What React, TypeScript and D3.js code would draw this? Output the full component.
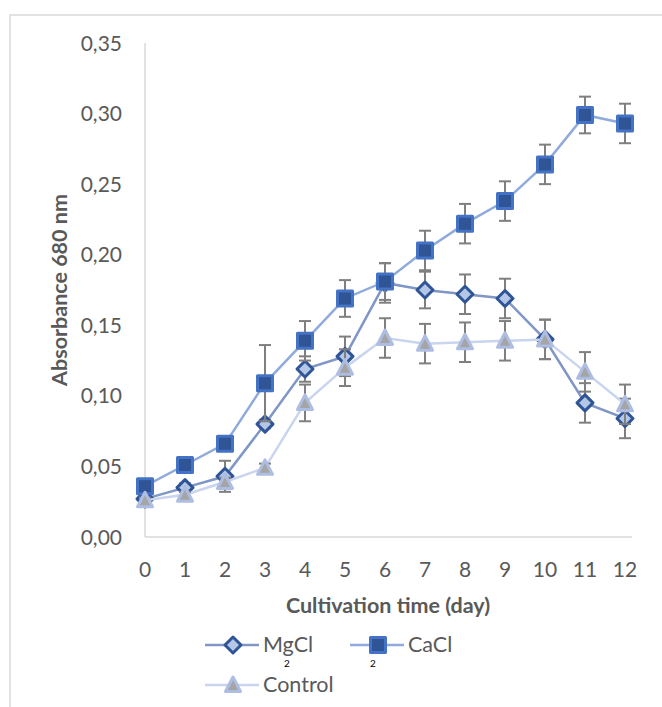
import React, { useEffect, useRef } from "react";
import * as d3 from "d3";

const days = [0, 1, 2, 3, 4, 5, 6, 7, 8, 9, 10, 11, 12];
const mgcl = [0.027, 0.035, 0.043, 0.08, 0.119, 0.128, 0.18, 0.175, 0.172, 0.169, 0.14, 0.095, 0.084];
const mgclErr = [0.002, 0.003, 0.011, 0.003, 0.009, 0.014, 0.014, 0.013, 0.014, 0.014, 0.014, 0.014, 0.014];
const cacl = [0.036, 0.051, 0.066, 0.109, 0.139, 0.169, 0.181, 0.203, 0.222, 0.238, 0.264, 0.299, 0.293];
const caclErr = [0.002, 0.003, 0.003, 0.027, 0.014, 0.013, 0.013, 0.014, 0.014, 0.014, 0.014, 0.013, 0.014];
const control = [0.026, 0.03, 0.039, 0.049, 0.095, 0.12, 0.141, 0.137, 0.138, 0.139, 0.14, 0.117, 0.094];
const controlErr = [0.002, 0.002, 0.003, 0.003, 0.013, 0.013, 0.014, 0.014, 0.014, 0.014, 0.014, 0.014, 0.014];
const yTicks = [0, 0.05, 0.1, 0.15, 0.2, 0.25, 0.3, 0.35];

const FONT = "Lato, 'Open Sans', sans-serif";
const TXT = "#595959";

function App() {
  const ref = useRef<SVGSVGElement>(null);

  useEffect(() => {
    document.body.style.margin = "0";
    drawChart();
  }, []);

  const drawChart = () => {
    const svg = d3.select(ref.current);
    svg.selectAll("*").remove();

    const left = 145,
      right = 625,
      top = 43,
      bottom = 537;

    const x = d3.scaleLinear().domain([0, 12]).range([left, right]);
    const y = d3.scaleLinear().domain([0, 0.35]).range([bottom, top]);

    // chart border
    svg
      .append("rect")
      .attr("x", 10)
      .attr("y", 15)
      .attr("width", 700)
      .attr("height", 720)
      .attr("fill", "none")
      .attr("stroke", "#d9d9d9")
      .attr("stroke-width", 1.5);

    // axes lines
    svg
      .append("line")
      .attr("x1", left)
      .attr("x2", left)
      .attr("y1", top)
      .attr("y2", bottom)
      .attr("stroke", "#d9d9d9")
      .attr("stroke-width", 1.5);
    svg
      .append("line")
      .attr("x1", left)
      .attr("x2", 632)
      .attr("y1", bottom)
      .attr("y2", bottom)
      .attr("stroke", "#d9d9d9")
      .attr("stroke-width", 1.5);

    // y tick labels
    svg
      .append("g")
      .selectAll("text")
      .data(yTicks)
      .enter()
      .append("text")
      .attr("x", 122)
      .attr("y", (d) => y(d))
      .attr("dy", "0.36em")
      .attr("text-anchor", "end")
      .attr("font-family", FONT)
      .attr("font-size", 21)
      .attr("fill", TXT)
      .text((d) => d3.format(".2f")(d).replace(".", ","));

    // x tick labels
    svg
      .append("g")
      .selectAll("text")
      .data(days)
      .enter()
      .append("text")
      .attr("x", (d) => x(d))
      .attr("y", 577)
      .attr("text-anchor", "middle")
      .attr("font-family", FONT)
      .attr("font-size", 21)
      .attr("fill", TXT)
      .text((d) => d);

    svg
      .append("text")
      .attr("x", 388)
      .attr("y", 613)
      .attr("text-anchor", "middle")
      .attr("font-family", FONT)
      .attr("font-weight", "bold")
      .attr("font-size", 21.5)
      .attr("fill", TXT)
      .text("Cultivation time (day)");

    svg
      .append("text")
      .attr("transform", "translate(67,290) rotate(-90)")
      .attr("text-anchor", "middle")
      .attr("font-family", FONT)
      .attr("font-weight", "bold")
      .attr("font-size", 21.5)
      .attr("fill", TXT)
      .text("Absorbance 680 nm");

    const series = [
      { name: "MgCl", values: mgcl, err: mgclErr, line: "#7f96c6", shape: "diamond", fill: "#b4c7e7", stroke: "#2f5597", lx: 205, ly: 645, sub: 287 },
      { name: "CaCl", values: cacl, err: caclErr, line: "#8faadc", shape: "square", fill: "#2f5597", stroke: "#4472c4", lx: 350, ly: 645, sub: 373 },
      { name: "Control", values: control, err: controlErr, line: "#c9d4ee", shape: "triangle", fill: "#a5a5a5", stroke: "#aebde2", lx: 205, ly: 685, sub: 0 }
    ];

    const markerPath = (shape: string) => {
      if (shape === "diamond") return "M0,-8L8,0L0,8L-8,0Z";
      if (shape === "square") return "M-7.5,-7.5H7.5V7.5H-7.5Z";
      return "M0,-8L7.5,6.5H-7.5Z";
    };

    const line = d3
      .line<number>()
      .x((d, i) => x(days[i]))
      .y((d) => y(d));

    series.forEach((s) => {
      const g = svg.append("g");
      g.append("path")
        .attr("d", line(s.values))
        .attr("fill", "none")
        .attr("stroke", s.line)
        .attr("stroke-width", 2.5);

      const eb = g.append("g").attr("stroke", "#7f7f7f").attr("stroke-width", 2);
      s.values.forEach((v, i) => {
        const cx = x(days[i]);
        const y1 = y(v - s.err[i]);
        const y2 = y(v + s.err[i]);
        eb.append("line").attr("x1", cx).attr("x2", cx).attr("y1", y1).attr("y2", y2);
        eb.append("line").attr("x1", cx - 6).attr("x2", cx + 6).attr("y1", y1).attr("y2", y1);
        eb.append("line").attr("x1", cx - 6).attr("x2", cx + 6).attr("y1", y2).attr("y2", y2);
      });

      g.selectAll("path.m")
        .data(s.values)
        .enter()
        .append("path")
        .attr("class", "m")
        .attr("d", markerPath(s.shape))
        .attr("transform", (d, i) => "translate(" + x(days[i]) + "," + y(d) + ")")
        .attr("fill", s.fill)
        .attr("stroke", s.stroke)
        .attr("stroke-width", 3)
        .attr("stroke-linejoin", "round");

      // legend
      const lg = svg.append("g");
      lg.append("line")
        .attr("x1", s.lx)
        .attr("x2", s.lx + 54)
        .attr("y1", s.ly)
        .attr("y2", s.ly)
        .attr("stroke", s.line)
        .attr("stroke-width", 2.5);
      lg.append("path")
        .attr("d", markerPath(s.shape))
        .attr("transform", "translate(" + (s.lx + 28) + "," + s.ly + ")")
        .attr("fill", s.fill)
        .attr("stroke", s.stroke)
        .attr("stroke-width", 3)
        .attr("stroke-linejoin", "round");
      lg.append("text")
        .attr("x", s.lx + 58)
        .attr("y", s.ly + 7)
        .attr("font-family", FONT)
        .attr("font-size", 21.5)
        .attr("fill", TXT)
        .text(s.name);
      if (s.sub) {
        lg.append("text")
          .attr("x", s.sub)
          .attr("y", 667)
          .attr("text-anchor", "middle")
          .attr("font-family", FONT)
          .attr("font-size", 10)
          .attr("fill", "#000")
          .text("2");
      }
    });
  };

  return <svg ref={ref} width={662} height={707} style={{ display: "block" }} />;
}

export default App;
